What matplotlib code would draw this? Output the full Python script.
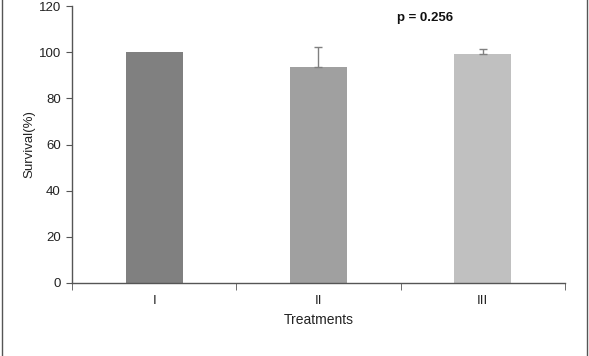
import matplotlib.pyplot as plt
import numpy as np
from matplotlib.lines import Line2D

plt.rcParams['font.family'] = ['Liberation Sans', 'DejaVu Sans']

# data
treatments = ['I', 'II', 'III']
survival = [100, 93.5, 99.1]
errors = [0, 8.8, 2.1]
bar_colors = ['#808080', '#a0a0a0', '#c0c0c0']
p_text = 'p = 0.256'

fig = plt.figure(figsize=(5.89, 3.56), dpi=100)
ax = fig.add_axes([0.1222, 0.2051, 0.837, 0.778])

x = np.arange(len(treatments))
ax.bar(x, survival, width=0.347, color=bar_colors, zorder=2)
# error bars only upward
ax.errorbar(x[1:], survival[1:], yerr=[np.zeros(2), errors[1:]], fmt='none',
            ecolor='#808080', elinewidth=1, capsize=3, capthick=1, zorder=3)

ax.set_xlim(-0.5, len(treatments) - 0.5)
ax.set_ylim(0, 120)
ax.set_yticks(range(0, 121, 20))
ax.set_xticks(x)
ax.set_xticklabels(treatments)
ax.set_xticks(np.arange(-0.5, len(treatments), 1), minor=True)
ax.tick_params(axis='x', which='major', length=0, pad=9, labelsize=9.5, labelcolor='#222222')
ax.tick_params(axis='x', which='minor', length=5, direction='out', color='#555555')
ax.tick_params(axis='y', length=4, direction='out', color='#555555', labelsize=9.5,
               labelcolor='#222222', pad=4)

for s in ['top', 'right']:
    ax.spines[s].set_visible(False)
for s in ['left', 'bottom']:
    ax.spines[s].set_color('#555555')
    ax.spines[s].set_linewidth(1)

ax.set_xlabel('Treatments', fontsize=10, color='#222222', labelpad=4)
ax.set_ylabel('Survival(%)', fontsize=9.5, color='#222222', labelpad=2)

ax.text(1.65, 115, p_text, fontsize=9.5, fontweight='bold', ha='center', va='center',
        color='#111111')

# side lines of the picture frame
for xf in [0.003, 0.997]:
    fig.lines.append(Line2D([xf, xf], [0, 1], transform=fig.transFigure,
                            color='#555555', linewidth=1))

fig.savefig('out.png', dpi=100)
